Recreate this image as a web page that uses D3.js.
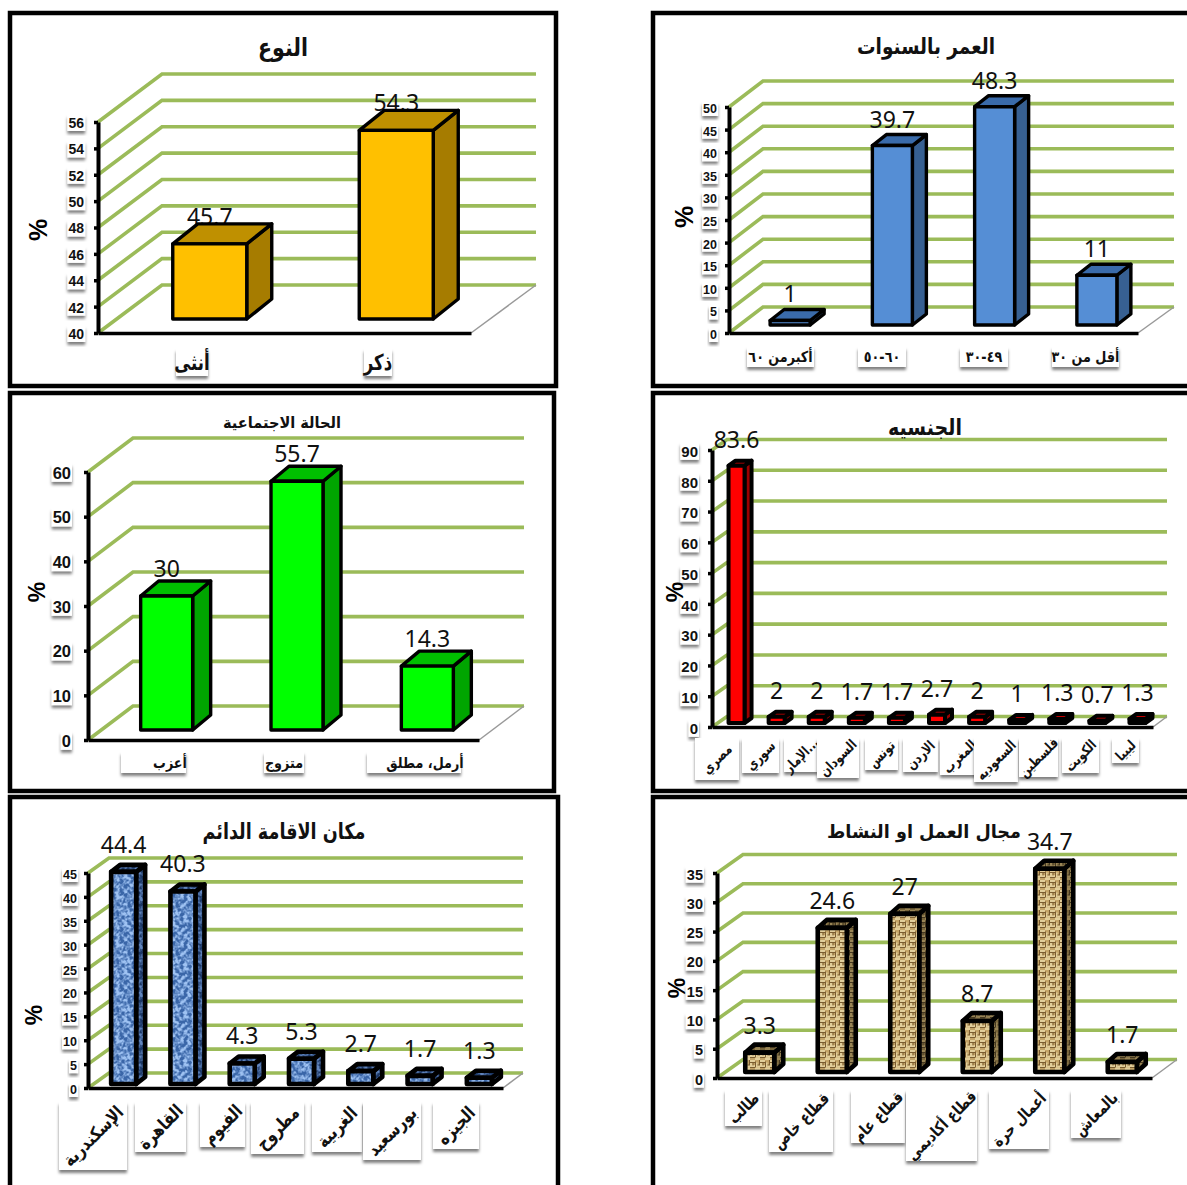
<!DOCTYPE html>
<html><head><meta charset="utf-8">
<script src="https://cdn.jsdelivr.net/npm/d3@7"></script>
<style>html,body{margin:0;padding:0;background:#fff}svg{display:block}</style>
</head><body><svg id="c" width="1187" height="1185"></svg>
<script>
// ---- data ----
const genderCats=["أنثى","ذكر"];
const genderVals=[45.7,54.3];
const genderTicks=[40,42,44,46,48,50,52,54,56];
const ageCats=["أكبرمن ٦٠","٦٠-٥٠","٤٩-٣٠","أقل من ٣٠"];
const ageVals=[1,39.7,48.3,11];
const ageTicks=[0,5,10,15,20,25,30,35,40,45,50];
const maritalCats=["أعزب","متزوج","أرمل، مطلق"];
const maritalVals=[30,55.7,14.3];
const maritalTicks=[0,10,20,30,40,50,60];
const nationCats=["مصري","سوري","الإمار...","السودان","تونس","الاردن","المغرب","السعوديه","فلسطين","الكويت","ليبيا"];
const nationVals=[83.6,2,2,1.7,1.7,2.7,2,1,1.3,0.7,1.3];
const nationTicks=[0,10,20,30,40,50,60,70,80,90];
const placeCats=["الإسكندرية","القاهرة","الفيوم","مطروح","الغربية","بورسعيد","الجيزه"];
const placeVals=[44.4,40.3,4.3,5.3,2.7,1.7,1.3];
const placeTicks=[0,5,10,15,20,25,30,35,40,45];
const workCats=["طالب","قطاع خاص","قطاع عام","قطاع أكاديمي","أعمال حرة","بالمعاش"];
const workVals=[3.3,24.6,27,8.7,34.7,1.7];
const workTicks=[0,5,10,15,20,25,30,35];

// ---- layout and style, kept apart from the data ----
const frames=[[10,13,546,373],[653,13,560,373],[10,393,544,398],[653,393,560,398],[10,797,548,420],[653,797,560,420]];
const panels=[
 {title:"النوع",tx:283,ty:56,tw:50,ts:25,cats:genderCats,vals:genderVals,ticks:genderTicks,
  ax:98,fr:471,top:122,bot:333,wdx:64,wdy:-48,end:536,bw:74,ddx:25,ddy:20,bdx:18.5,bdy:14,sw:3.4,
  lab:-1,pct:[38,230,25],tf:14,tr:84,tdy:1,front:"#FFC000",side:"#A67C00",topc:"#BF9000",
  cf:22,cs:.75,boxes:[[176,208,349,376],[364,392,349,376]]},
 {title:"العمر بالسنوات",tx:926,ty:54,tw:138,ts:22,cats:ageCats,vals:ageVals,ticks:ageTicks,
  ax:729,fr:1138,top:107,bot:333,wdx:34,wdy:-26,end:1174,bw:40,ddx:14,ddy:11,bdx:10,bdy:8,sw:3.4,
  lab:7,pct:[684,217,25],tf:12.5,tr:717,tdy:1.5,front:"#558ED5",side:"#376092",topc:"#3A6BAA",
  cf:15,cs:.85,boxes:[[747,814,347,367],[858,906,347,367],[960,1008,347,367],[1052,1119,347,367]]},
 {title:"الحالة الاجتماعية",tx:282,ty:428,tw:118,ts:16,cats:maritalCats,vals:maritalVals,ticks:maritalTicks,
  ax:88,fr:479,top:472,bot:740,wdx:45,wdy:-34,end:524,bw:52,ddx:18,ddy:15,bdx:13.5,bdy:10,sw:3.4,
  lab:4,pct:[37,592,23],tf:16.5,tr:71,tdy:1,front:"#00FF00",side:"#00A500",topc:"#00C000",
  cf:15,cs:.85,boxes:[[121,186,752,773],[264,304,752,773],[367,461,752,773]],ctext:[170,284,425]},
 {title:"الجنسيه",tx:925,ty:435,tw:74,ts:22,cats:nationCats,vals:nationVals,ticks:nationTicks,
  ax:712,fr:1153,top:450,bot:727,wdx:15,wdy:-10.5,end:1167,bw:16,ddx:7,ddy:5,bdx:4.5,bdy:4,sw:4,
  lab:13,pct:[675,592,23],tf:15,tr:698,tdy:1.5,front:"#FF0000",side:"#990000",topc:"#C00000",
  cf:14,cs:.8,rot:true,boxes:[[695,739,738,780],[742,779,738,773],[784,818,738,772],[817,859,738,778],[865,898,738,770],[903,938,738,772],[940,979,738,775],[974,1018,738,782],[1019,1058,738,777],[1062,1099,738,773],[1112,1139,738,763]]},
 {title:"مكان الاقامة الدائم",tx:284,ty:839,tw:163,ts:22,cats:placeCats,vals:placeVals,ticks:placeTicks,
  ax:88,fr:503,top:873,bot:1088,wdx:21,wdy:-15,end:523,bw:25,ddx:9,ddy:7,bdx:6,bdy:4,sw:4.6,
  lab:12,pct:[34,1015,23],tf:12.5,tr:77,tdy:1.5,front:"url(#blueF)",side:"url(#blueS)",topc:"url(#blueS)",
  cf:18,cs:.82,rot:true,boxes:[[59,127,1102,1170],[135,186,1102,1152],[200,245,1102,1147],[251,304,1102,1154],[312,362,1102,1152],[363,421,1102,1160],[433,479,1102,1149]]},
 {title:"مجال العمل او النشاط",tx:924,ty:838,tw:194,ts:19,cats:workCats,vals:workVals,ticks:workTicks,
  ax:717,fr:1152,top:873,bot:1078,wdx:26,wdy:-18.5,end:1177,bw:29,ddx:9,ddy:8,bdx:6.5,bdy:6,sw:4.6,
  lab:11,pct:[677,988,23],tf:14.5,tr:703,tdy:1.5,front:"url(#burlapF)",side:"url(#burlapS)",topc:"url(#burlapS)",
  cf:16,cs:.82,rot:true,boxes:[[725,762,1090,1126],[769,833,1090,1152],[851,905,1090,1143],[906,977,1090,1161],[989,1049,1090,1149],[1071,1121,1090,1138]]}
];
const GRID="#9BBB59";
const AR="'DejaVu Sans',sans-serif";
const NUM="'Liberation Sans',Arial,sans-serif";
const VAL="'Noto Sans',sans-serif";

const svg=d3.select("#c");
const defs=svg.append("defs");
// label box shadow
const sh=defs.append("filter").attr("id","shadow").attr("x","-20%").attr("y","-20%").attr("width","140%").attr("height","150%");
sh.append("feDropShadow").attr("dx",0).attr("dy",3).attr("stdDeviation",1.6).attr("flood-color","#000").attr("flood-opacity",.5);
// mottled blue texture
function blue(id,base,dark){
  const p=defs.append("pattern").attr("id",id).attr("patternUnits","userSpaceOnUse").attr("width",48).attr("height",48);
  p.append("rect").attr("width",48).attr("height",48).attr("fill",dark);
  const f=defs.append("filter").attr("id","mottle"+id).attr("x",0).attr("y",0).attr("width","100%").attr("height","100%").attr("color-interpolation-filters","sRGB");
  f.append("feTurbulence").attr("type","fractalNoise").attr("baseFrequency",.24).attr("numOctaves",2).attr("seed",7).attr("stitchTiles","stitch").attr("result","n");
  f.append("feColorMatrix").attr("in","n").attr("type","matrix").attr("values","0 0 0 0 "+base[0]+"  0 0 0 0 "+base[1]+"  0 0 0 0 "+base[2]+"  3.4 0 0 0 -1.25");
  p.append("g").attr("filter","url(#mottle"+id+")").append("rect").attr("width",48).attr("height",48).attr("fill","#fff");
}
blue("blueF",[.62,.76,.95],"#3A66A8");
blue("blueS",[.38,.52,.74],"#1C3866");
function burlap(id,a,b,c){
  const p=defs.append("pattern").attr("id",id).attr("patternUnits","userSpaceOnUse").attr("width",10).attr("height",10);
  p.append("rect").attr("width",10).attr("height",10).attr("fill",a);
  [[0,0,5,2.5],[5,2.5,2.5,5],[0,5,5,2.5],[5,7.5,5,2.5],[7.5,5,2.5,2.5],[0,2.5,2.5,2.5]].forEach(r=>p.append("rect").attr("x",r[0]).attr("y",r[1]).attr("width",r[2]).attr("height",r[3]).attr("fill",b));
  [[0,2,5,1],[5,1.5,1,6],[0,7,5,1],[2.5,3,1,2.5],[7.5,4.5,2.5,1],[9,0,1,5]].forEach(r=>p.append("rect").attr("x",r[0]).attr("y",r[1]).attr("width",r[2]).attr("height",r[3]).attr("fill",c));
}
burlap("burlapF","#C4A468","#E2CE9A","#7A5C30");
burlap("burlapS","#77643A","#988455","#453820");

// frames
svg.selectAll("rect.frame").data(frames).join("rect").attr("class","frame")
  .attr("x",d=>d[0]).attr("y",d=>d[1]).attr("width",d=>d[2]).attr("height",d=>d[3])
  .attr("fill","none").attr("stroke","#000").attr("stroke-width",4.5);

panels.forEach(p=>{
  const g=svg.append("g");
  const data=p.cats.map((c,i)=>({c,v:p.vals[i]}));
  const x=d3.scaleBand().domain(p.cats).range([p.ax,p.fr]).padding(0);
  const y=d3.scaleLinear().domain(d3.extent(p.ticks)).range([p.bot,p.top]);
  const y0=y(p.ticks[0]);

  // back wall gridlines
  const line=d3.line();
  g.append("g").selectAll("path").data(p.ticks).join("path")
    .attr("d",t=>line([[p.ax,y(t)],[p.ax+p.wdx,y(t)+p.wdy],[p.end,y(t)+p.wdy]]))
    .attr("fill","none").attr("stroke",GRID).attr("stroke-width",3.6);
  // floor edge
  g.append("path").attr("d",line([[p.fr,y0],[p.end,y0+p.wdy]])).attr("stroke","#999").attr("stroke-width",1.5).attr("fill","none");

  const cx=d=>x(d.c)+x.bandwidth()/2+p.bdx;
  const top=d=>y(d.v)-p.bdy;
  // value labels
  g.append("g").selectAll("text").data(data).join("text")
    .attr("x",cx).attr("y",d=>top(d)-p.ddy-p.lab)
    .attr("text-anchor","middle").attr("font-family",VAL).attr("font-size",23).attr("fill","#111")
    .text(d=>d.v);

  // bars
  const bars=g.append("g").attr("stroke","#000").attr("stroke-width",p.sw).attr("stroke-linejoin","round");
  const h=p.bw/2;
  bars.selectAll("path.side").data(data).join("path").attr("class","side").attr("fill",p.side)
    .attr("d",d=>line([[cx(d)+h,top(d)],[cx(d)+h+p.ddx,top(d)-p.ddy],[cx(d)+h+p.ddx,y0-p.bdy-p.ddy],[cx(d)+h,y0-p.bdy]])+"Z");
  bars.selectAll("path.top").data(data).join("path").attr("class","top").attr("fill",p.topc)
    .attr("d",d=>line([[cx(d)-h,top(d)],[cx(d)-h+p.ddx,top(d)-p.ddy],[cx(d)+h+p.ddx,top(d)-p.ddy],[cx(d)+h,top(d)]])+"Z");
  bars.selectAll("rect.front").data(data).join("rect").attr("class","front").attr("fill",p.front)
    .attr("x",d=>cx(d)-h).attr("y",top).attr("width",p.bw).attr("height",d=>Math.max(0,y0-p.bdy-top(d)));

  // value axis
  const ya=g.append("g").attr("transform",`translate(${p.ax},0)`)
    .call(d3.axisLeft(y).tickValues(p.ticks).tickFormat(d3.format("d")).tickSize(4).tickSizeOuter(0).tickPadding(1));
  ya.select(".domain").attr("stroke","#000").attr("stroke-width",4);
  ya.selectAll(".tick line").attr("stroke","#000").attr("stroke-width",3.5);
  ya.selectAll(".tick text").attr("font-family",NUM).attr("font-weight","bold").attr("font-size",p.tf).attr("fill","#111")
    .attr("x",p.tr-p.ax).attr("y",p.tdy).attr("text-anchor","end");
  ya.selectAll(".tick").each(function(){
    const t=d3.select(this).select("text"), b=t.node().getBBox();
    d3.select(this).insert("rect","text").attr("x",b.x-1).attr("y",b.y).attr("width",b.width+2).attr("height",b.height)
      .attr("fill","#fff").attr("filter","url(#shadow)");
  });

  // category axis
  const xa=g.append("g").attr("transform",`translate(0,${y0})`)
    .call(d3.axisBottom(x).tickSize(0).tickSizeOuter(0));
  xa.select(".domain").attr("stroke","#000").attr("stroke-width",3.5);
  xa.selectAll(".tick").each(function(c,i){
    const tk=d3.select(this), bx=p.boxes[i], c0=x(c)+x.bandwidth()/2;
    const bcx=(bx[0]+bx[1])/2, bcy=(bx[2]+bx[3])/2;
    tk.insert("rect","text").attr("x",bx[0]-c0).attr("y",bx[2]-y0).attr("width",bx[1]-bx[0]).attr("height",bx[3]-bx[2])
      .attr("fill","#fff").attr("filter","url(#shadow)");
    const tcx=(p.ctext?p.ctext[i]:bcx)-c0, tcy=bcy-y0;
    const t=tk.select("text").attr("font-family",AR).attr("font-weight","bold").attr("font-size",p.cf).attr("fill","#111")
      .attr("text-anchor","middle").attr("direction","ltr").attr("x",tcx).attr("y",tcy).attr("dy",".35em");
    t.attr("textLength",t.node().getComputedTextLength()*p.cs).attr("lengthAdjust","spacingAndGlyphs");
    if(p.rot) t.attr("transform",`rotate(-45 ${tcx} ${tcy})`);
  });

  // title and percent sign
  g.append("text").attr("x",p.tx).attr("y",p.ty).attr("text-anchor","middle")
    .attr("font-family",AR).attr("font-weight","bold").attr("font-size",p.ts).attr("fill","#111")
    .attr("textLength",p.tw).attr("lengthAdjust","spacingAndGlyphs").text(p.title);
  g.append("text").attr("transform",`translate(${p.pct[0]},${p.pct[1]}) rotate(-90)`).attr("text-anchor","middle").attr("dy",".35em")
    .attr("font-family",NUM).attr("font-weight","bold").attr("font-size",p.pct[2]).attr("fill","#000").text("%");
});
</script></body></html>
